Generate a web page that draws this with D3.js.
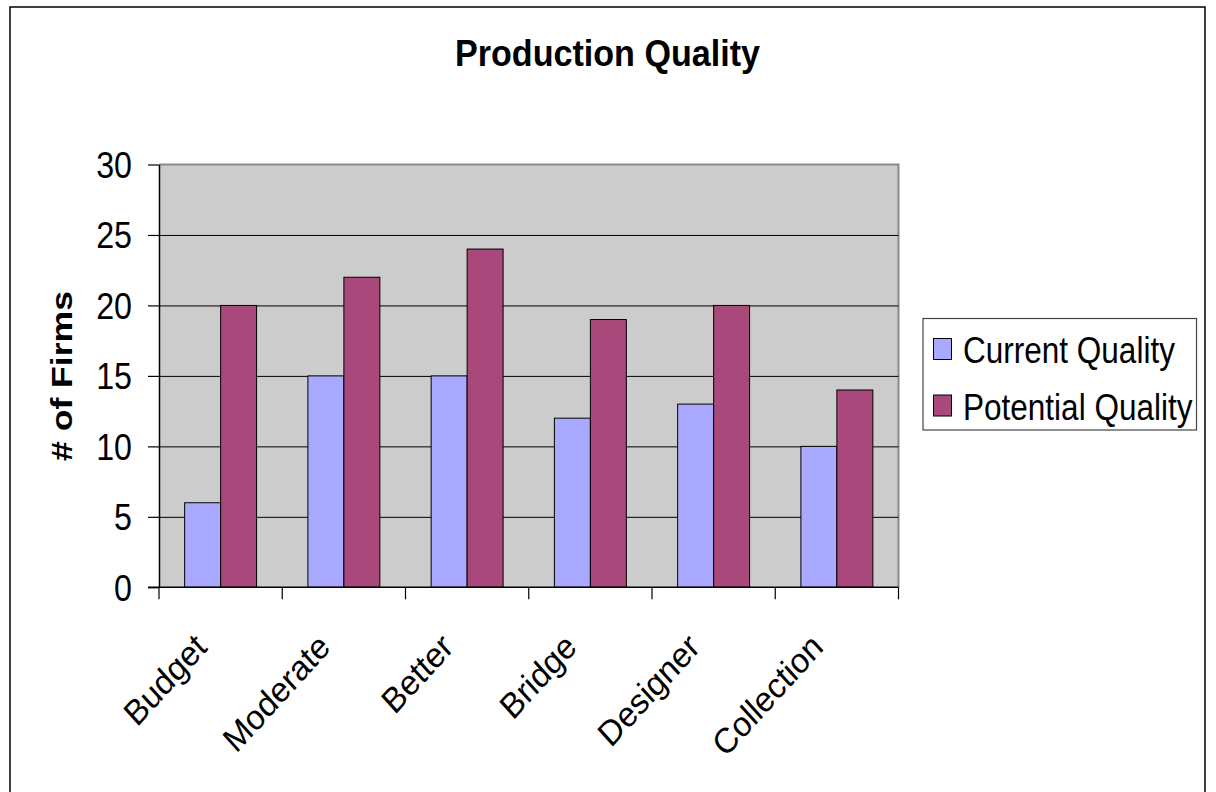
<!DOCTYPE html>
<html>
<head>
<meta charset="utf-8">
<script src="https://cdn.jsdelivr.net/npm/d3@7"></script>
<style>
  html, body { margin: 0; padding: 0; background: #fff; }
  svg { display: block; }
  text { font-family: "Liberation Sans", Arial, sans-serif; fill: #000; }
</style>
</head>
<body>
<svg id="chart" width="1216" height="792"></svg>
<script>
// Production quality survey: number of firms per market tier
const categories = ["Budget", "Moderate", "Better", "Bridge", "Designer", "Collection"];
const seriesNames = ["Current Quality", "Potential Quality"];
const currentQuality = [6, 15, 15, 12, 13, 10];
const potentialQuality = [20, 22, 24, 19, 20, 14];
const yTicks = [0, 5, 10, 15, 20, 25, 30];
const seriesColors = ["#A9AAFF", "#A9487A"];

const table = categories.map((c, i) => ({
  category: c,
  values: [currentQuality[i], potentialQuality[i]]
}));

const svg = d3.select("#chart");

// Outer chart frame
svg.append("rect")
  .attr("x", 10).attr("y", 7)
  .attr("width", 1195).attr("height", 800)
  .attr("fill", "#fff").attr("stroke", "#000").attr("stroke-width", 1.5);

const plot = { left: 159, right: 898.5, top: 164.5, bottom: 587.3 };
const pw = plot.right - plot.left, ph = plot.bottom - plot.top;

const x0 = d3.scaleBand().domain(categories).range([plot.left, plot.right]).padding(0);
const x1 = d3.scaleBand().domain(seriesNames).range([0, x0.bandwidth()])
  .paddingInner(0).paddingOuter(0.713);
const y = d3.scaleLinear().domain([0, 30]).range([plot.bottom, plot.top]);

// Plot background
svg.append("rect")
  .attr("x", plot.left).attr("y", plot.top)
  .attr("width", pw).attr("height", ph)
  .attr("fill", "#CCCCCC");

// Gray plot border (top & right)
svg.append("path")
  .attr("d", `M${plot.left},${plot.top}H${plot.right}V${plot.bottom}`)
  .attr("fill", "none").attr("stroke", "#8a8a8a").attr("stroke-width", 2);

// Horizontal gridlines
svg.append("g")
  .attr("transform", `translate(${plot.left},0)`)
  .call(d3.axisLeft(y).tickValues(yTicks.filter(v => v > 0 && v < 30)).tickSize(-pw).tickFormat(""))
  .call(g => g.select(".domain").remove())
  .call(g => g.selectAll("line").attr("stroke", "#000").attr("stroke-width", 1));

// Bars
const groups = svg.append("g").selectAll("g").data(table).join("g")
  .attr("transform", d => `translate(${x0(d.category)},0)`);
groups.selectAll("rect")
  .data(d => d.values.map((v, i) => ({ key: seriesNames[i], value: v, i })))
  .join("rect")
  .attr("x", d => x1(d.key))
  .attr("y", d => y(d.value))
  .attr("width", x1.bandwidth())
  .attr("height", d => y(0) - y(d.value))
  .attr("fill", d => seriesColors[d.i])
  .attr("stroke", "#000").attr("stroke-width", 1);

// Y axis
const yAxis = svg.append("g")
  .attr("transform", `translate(${plot.left},0)`)
  .call(d3.axisLeft(y).tickValues(yTicks).tickSize(11).tickSizeOuter(0).tickFormat(""));
yAxis.select(".domain").attr("stroke", "#000").attr("stroke-width", 1.5);
yAxis.selectAll("line").attr("stroke", "#000").attr("stroke-width", 1.2);

// Y tick labels (slightly condensed face)
svg.append("g").selectAll("text").data(yTicks).join("text")
  .attr("transform", d => `translate(132,${y(d) + 13.5}) scale(0.87,1)`)
  .attr("text-anchor", "end")
  .attr("font-size", 37)
  .text(d => d);

// X axis with ticks at category boundaries
const boundaries = categories.map(c => x0(c)).concat([plot.right]);
svg.append("line")
  .attr("x1", plot.left - 11).attr("x2", plot.right)
  .attr("y1", plot.bottom).attr("y2", plot.bottom)
  .attr("stroke", "#000").attr("stroke-width", 1.5);
svg.append("g").selectAll("line").data(boundaries).join("line")
  .attr("x1", d => d).attr("x2", d => d)
  .attr("y1", plot.bottom).attr("y2", plot.bottom + 12)
  .attr("stroke", "#000").attr("stroke-width", 1.2);

// Rotated category labels (tall face)
svg.append("g").selectAll("text").data(categories).join("text")
  .attr("transform", d => `translate(${x0(d) + x0.bandwidth() / 2 - 12},649) scale(1,1.1) rotate(-45)`)
  .attr("text-anchor", "end")
  .attr("font-size", 32)
  .text(d => d);

// Title
svg.append("text")
  .attr("x", 607.5).attr("y", 66)
  .attr("text-anchor", "middle")
  .attr("font-size", 37).attr("font-weight", "bold")
  .attr("textLength", 305).attr("lengthAdjust", "spacingAndGlyphs")
  .text("Production Quality");

// Y axis title
svg.append("text")
  .attr("transform", "translate(72,376) rotate(-90)")
  .attr("text-anchor", "middle")
  .attr("font-size", 30).attr("font-weight", "bold")
  .attr("textLength", 170).attr("lengthAdjust", "spacingAndGlyphs")
  .text("# of Firms");

// Legend
const legend = svg.append("g");
legend.append("rect")
  .attr("x", 923).attr("y", 318.5).attr("width", 273.5).attr("height", 111.5)
  .attr("fill", "#fff").attr("stroke", "#444").attr("stroke-width", 1.2);
const legendRows = legend.selectAll("g").data(seriesNames).join("g")
  .attr("transform", (d, i) => `translate(0,${i * 56.5})`);
legendRows.append("rect")
  .attr("x", 933.5).attr("y", 338.5).attr("width", 18).attr("height", 21)
  .attr("fill", (d, i) => seriesColors[i])
  .attr("stroke", "#000").attr("stroke-width", 1);
legendRows.append("text")
  .attr("transform", "translate(963,363) scale(0.852,1)")
  .attr("font-size", 37)
  .text(d => d);
</script>
</body>
</html>
